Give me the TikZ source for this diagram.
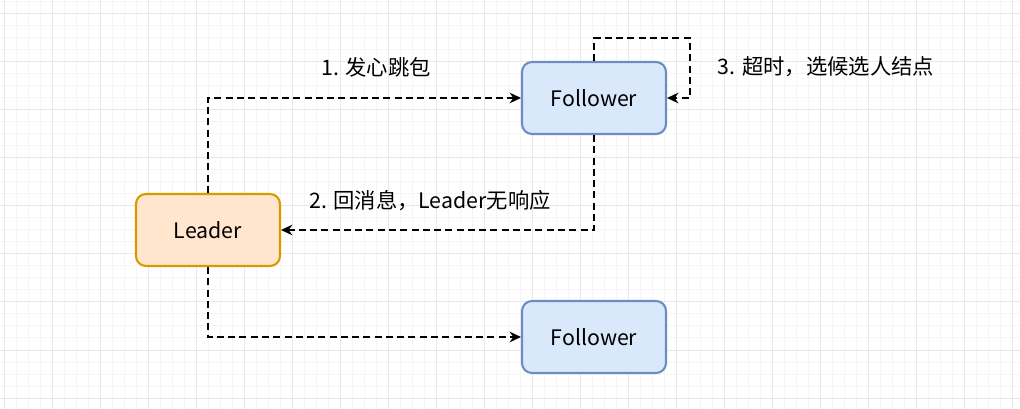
\documentclass[tikz,border=0pt]{standalone}
\usepackage{fontspec}
\setmainfont{Noto Sans CJK SC}
\usepackage{tikz}
\usetikzlibrary{arrows.meta}

\definecolor{leaderfill}{HTML}{FFE6CC}
\definecolor{leaderline}{HTML}{D79B00}
\definecolor{followfill}{HTML}{DAE8FC}
\definecolor{followline}{HTML}{6C8EBF}
\definecolor{gridminor}{HTML}{F5F5F5}
\definecolor{gridmajor}{HTML}{E8E8E8}

\tikzset{
    nodebox/.style={draw, rounded corners=7.5pt, line width=1.6pt,
        minimum width=108pt, minimum height=54pt, font=\fontsize{16}{19}\selectfont},
    leaderbox/.style={nodebox, fill=leaderfill, draw=leaderline},
    followerbox/.style={nodebox, fill=followfill, draw=followline},
    flow/.style={line width=1.8pt, dash pattern=on 5.25pt off 3.2pt,
        -{Stealth[length=8.5pt, width=8pt, inset=2.8pt]}},
    lbl/.style={font=\fontsize{16}{19}\selectfont, inner sep=0pt}
}

\begin{document}
\begin{tikzpicture}[x=0.75pt, y=-0.75pt]
        \fill[white] (0,0) rectangle (1020,409);
        \useasboundingbox (0,0) rectangle (1020,409);
        % background grid
        \foreach \x in {4,16,...,1020}
        \draw[gridminor, line width=0.75pt] (\x,0) -- (\x,409);
        \foreach \y in {2,14,...,409}
        \draw[gridminor, line width=0.75pt] (0,\y) -- (1020,\y);
        \foreach \x in {4,52,...,1020}
        \draw[gridmajor, line width=0.75pt] (\x,0) -- (\x,409);
        \foreach \y in {14,62,...,409}
        \draw[gridmajor, line width=0.75pt] (0,\y) -- (1020,\y);

        \node[leaderbox] (leader) at (208,230) {Leader};
        \node[followerbox] (f1) at (594,98) {Follower};
        \node[followerbox] (f2) at (594,337) {Follower};
        \coordinate (loop) at (690,38);

        \draw[flow] (leader.north) |- (f1.west);
        \draw[flow] (f1.south) |- (leader.east);
        \draw[flow] (f1.north) |- (loop) |- (f1.east);
        \draw[flow] (leader.south) |- (f2.west);

        \node[lbl] (msg1) at (376,67) {1. 发心跳包};
        \node[lbl] (msg2) at (430,201) {2. 回消息，Leader无响应};
        \node[lbl] (msg3) at (826,67) {3. 超时，选候选人结点};
    \end{tikzpicture}
\end{document}
